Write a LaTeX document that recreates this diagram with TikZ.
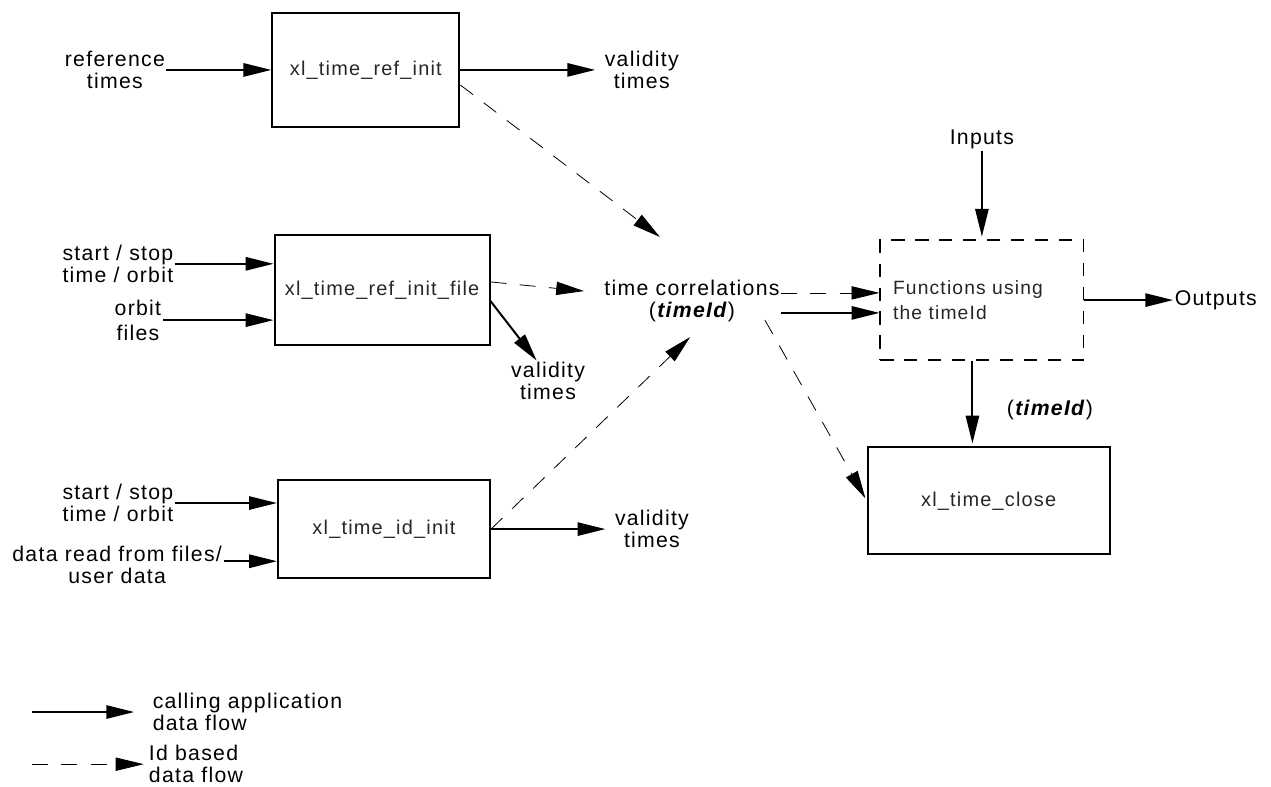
\documentclass[tikz,border=0pt]{standalone}
\usepackage{fontspec}
\setmainfont{Liberation Sans}[LetterSpace=6]
\usetikzlibrary{arrows.meta,positioning}
\tikzset{func/.style={rectangle,draw,line width=1.5pt,font=\fontsize{15}{17}\selectfont,text=black!85}}
\tikzset{funcs/.style={rectangle,draw,line width=1.2pt,dash pattern=on 10pt off 8pt,align=left,inner xsep=0.34cm,text width=4.7cm,minimum height=3.17cm,font=\fontsize{14.5}{19}\selectfont,text=black!85}}
\tikzset{lbl/.style={align=center,inner sep=1pt,font=\fontsize{16}{16.5}\selectfont}}
\tikzset{flow/.style={draw,line width=1.5pt,-{Triangle[length=21pt,width=10pt]}}}
\tikzset{idflow/.style={draw,line width=0.6pt,dash pattern=on 12pt off 10pt,-{Triangle[length=21pt,width=10pt]}}}

\begin{document}
\begin{tikzpicture}[node distance=2.5cm]
    \useasboundingbox (0,0) rectangle (33.63,-20.82);
    \node[func,minimum width=4.95cm,minimum height=3.02cm] (refinit) at (9.68,-1.85) {xl\_time\_ref\_init};
    \node[func,minimum width=5.69cm,minimum height=2.91cm,below of=refinit,node distance=5.82cm,xshift=0.43cm] (reffile) {xl\_time\_ref\_init\_file};
    \node[func,minimum width=5.61cm,minimum height=2.59cm,below of=reffile,node distance=6.33cm,xshift=0.05cm] (idinit) {xl\_time\_id\_init};
    \node[lbl,right of=reffile,node distance=8.2cm,yshift=-0.29cm] (tc) {time correlations\\(\textbf{\textit{timeId}})};
    \node[funcs,right of=tc,node distance=7.67cm,yshift=0.02cm] (fun) {Functions using\\the timeId};
    \node[func,minimum width=6.4cm,minimum height=2.83cm,below of=fun,node distance=5.31cm,xshift=0.18cm] (close) {xl\_time\_close};

    \node[lbl,left of=refinit,node distance=6.64cm] (rt) {reference\\times};
    \node[lbl,right of=refinit,node distance=7.3cm] (vt1) {validity\\times};
    \node[lbl,left of=reffile,node distance=6.99cm,yshift=0.69cm] (ss2) {start / stop\\time / orbit};
    \node[lbl,left of=reffile,node distance=6.46cm,yshift=-0.8cm,font=\fontsize{16}{19}\selectfont] (of2) {orbit\\files};
    \node[lbl,below of=reffile,node distance=2.41cm,xshift=4.39cm] (vt2) {validity\\times};
    \node[lbl,left of=idinit,node distance=7.04cm,yshift=0.69cm] (ss3) {start / stop\\time / orbit};
    \node[lbl,left of=idinit,node distance=7.06cm,yshift=-0.95cm] (dr3) {data read from files/\\user data};
    \node[lbl,right of=idinit,node distance=7.09cm] (vt3) {validity\\times};
    \node[lbl,above of=fun,node distance=4.24cm] (inp) {Inputs};
    \node[lbl,right of=fun,node distance=6.19cm] (out) {Outputs};
    \node[lbl,below of=fun,node distance=2.91cm,xshift=1.8cm] (tid) {(\textbf{\textit{timeId}})};

    % legend
    \coordinate (lg1) at (0.85,-18.84);
    \coordinate (lg2) at (0.85,-20.22);
    \node[lbl,anchor=west,align=left] (lg1t) at (4.0,-18.84) {calling application\\data flow};
    \node[lbl,anchor=west,align=left] (lg2t) at (3.9,-20.22) {Id based\\data flow};

        \path[flow] (rt.east) -- (rt.east -| refinit.west);
        \path[flow,shorten >=6pt] (refinit.east) -- (vt1.west);
        \path[flow] (ss2.east) -- (ss2.east -| reffile.west);
        \path[flow] (of2.east) -- (of2.east -| reffile.west);
        \path[flow] ([yshift=-0.3cm]reffile.east) -- ([xshift=-0.3cm]vt2.north);
        \path[flow] (ss3.east) -- (ss3.east -| idinit.west);
        \path[flow] ([yshift=0.1cm]dr3.east) -- ([yshift=0.1cm]dr3.east -| idinit.west);
        \path[flow,shorten >=6pt] (idinit.east) -- (vt3.west);
        \path[flow,shorten >=2pt] (inp.south) -- (fun.north);
        \path[flow] (fun.east) -- (out.west);
        \path[flow,shorten >=2pt] ([xshift=-0.25cm]fun.south) -- ([xshift=-0.25cm]fun.south |- close.north);
        \path[flow] ([yshift=-0.32cm]tc.east) -- ([yshift=-0.32cm]tc.east -| fun.west);
        \path[idflow] ([yshift=-0.4cm]refinit.east) -- ([shift={(-0.85,1.69)}]tc.center);
        \path[idflow,shorten >=0.5cm] ([yshift=0.21cm]reffile.east -| reffile.east) -- ([yshift=0.21cm]tc.west);
        \path[idflow] (idinit.east) -- ([shift={(-0.05,-0.96)}]tc.center);
        \path[idflow] ([yshift=0.21cm]tc.east) -- ([yshift=0.21cm]tc.east -| fun.west);
        \path[idflow,shorten >=2pt] ([shift={(1.93,-0.51)}]tc.center) -- (close.west);
        \path[flow,shorten >=0.45cm] (lg1) -- (lg1t.west);
        \path[idflow,shorten >=0.1cm] (lg2) -- (lg2t.west);
  \end{tikzpicture}
\end{document}
